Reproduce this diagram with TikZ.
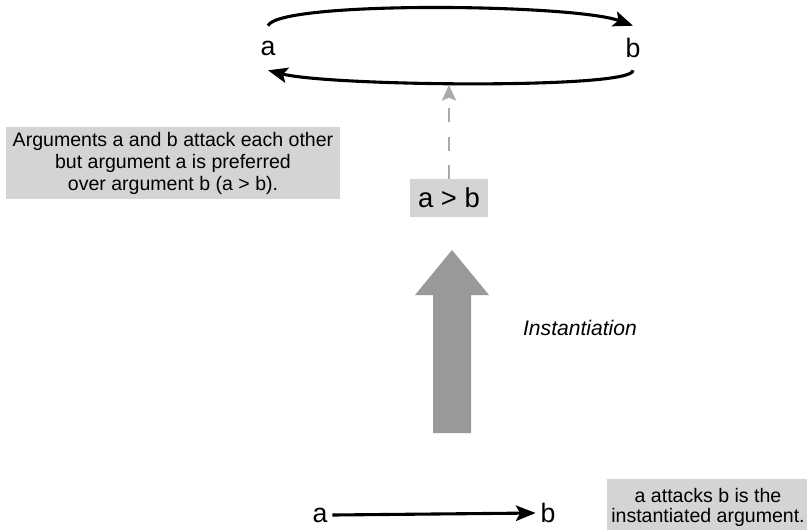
\documentclass[tikz,border=0pt]{standalone}
\usepackage{fontspec}
\usetikzlibrary{arrows.meta}
\setmainfont{Liberation Sans}
\definecolor{boxgray}{RGB}{212,212,212}
\definecolor{arrowgray}{RGB}{153,153,153}
\definecolor{dashgray}{RGB}{170,170,170}

\begin{document}
\begin{tikzpicture}[x=0.025cm, y=-0.025cm,
		arg/.style={font=\fontsize{19}{22}\selectfont, minimum height=1.1cm},
		note/.style={fill=boxgray, align=center, font=\fontsize{13.9}{15.6}\selectfont},
		attack/.style={-{Stealth[length=14pt, width=11pt, inset=3pt]}, line width=2.2pt}]
		\useasboundingbox (0,0) rectangle (807,529);

		% abstract level
		\node[arg] (a1) at (268,48) {a};
		\node[arg] (b1) at (633,48) {b};
		\draw[attack] (a1.north) .. controls +(10,-25) and +(-60,-22) .. (b1.north);
		\draw[attack] (b1.south) .. controls +(1,19) and +(62,16) .. (a1.south);

		\node[note, minimum width=8.35cm, minimum height=1.8cm] (pref) at (173,163) {Arguments a and b attack each other\\ but argument a is preferred\\ over argument b (a > b).};
		\node[fill=boxgray, minimum width=1.95cm, minimum height=0.95cm, font=\fontsize{19.5}{22}\selectfont] (ab) at (449,198) {a > b};
		\coordinate (tip) at (449,85);
		\draw[-{Stealth[length=11pt, width=10pt, inset=2pt]}, dashgray, line width=1.8pt, dash pattern=on 10pt off 10pt] (ab.north) -- (tip);

		% instantiation
		\fill[arrowgray] (433,433) -- (433,295) -- (415,295) -- (452,250) -- (489,295) -- (471,295) -- (471,433) -- cycle;
		\node[font=\fontsize{15}{18}\selectfont\itshape] (inst) at (580,328) {Instantiation};

		% instantiated level
		\node[arg, minimum height=0pt] (a2) at (320,515) {a};
		\node[arg, minimum height=0pt] (b2) at (548,513) {b};
		\draw[attack] (a2.east) -- (b2.west);
		\node[note, minimum width=5.05cm, minimum height=1.4cm, font=\fontsize{13.9}{14.2}\selectfont] (inarg) at (708,507) {a attacks b is the\\ instantiated argument.};

	\end{tikzpicture}
\end{document}
